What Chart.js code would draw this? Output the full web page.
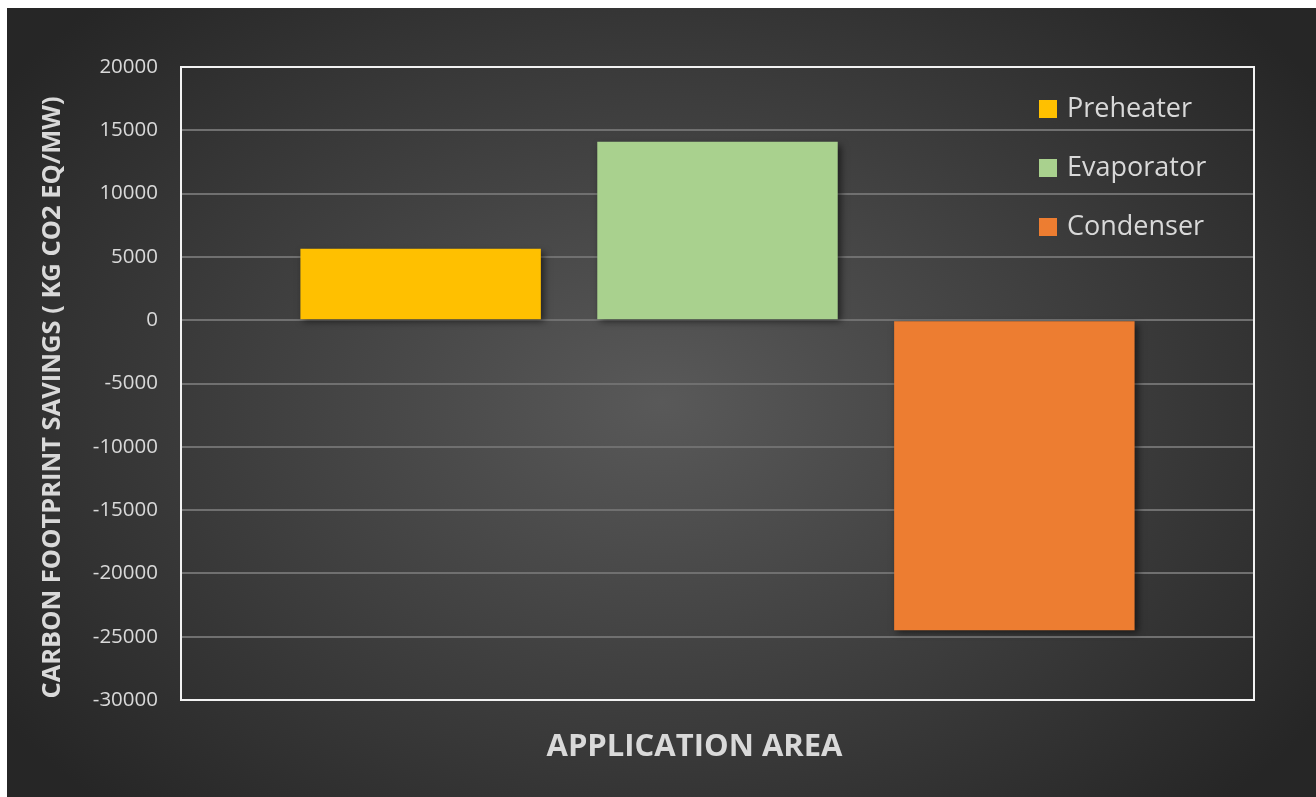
<!DOCTYPE html>
<html>
<head>
<meta charset="utf-8">
<script src="https://cdn.jsdelivr.net/npm/chart.js@4.4.1/dist/chart.umd.min.js"></script>
<style>
html, body { margin: 0; padding: 0; background: #fff; }
#wrap { position: absolute; left: 7px; top: 8px; width: 1309px; height: 789px; }
</style>
</head>
<body>
<div id="wrap"><canvas id="graficoCarbono" width="1309" height="789"></canvas></div>
<script>
var categorias = [''];
var series = ['Preheater', 'Evaporator', 'Condenser'];
var valores = [5650, 14100, -24500];
var cores = ['#ffc000', '#a9d18e', '#ed7d31'];
var ticksY = [20000, 15000, 10000, 5000, 0, -5000, -10000, -15000, -20000, -25000, -30000];
var tituloX = 'APPLICATION AREA';
var tituloY = 'CARBON FOOTPRINT SAVINGS ( KG CO2 EQ/MW)';

Chart.defaults.font.family = '"Open Sans", sans-serif';
Chart.defaults.color = '#d9d9d9';

// fundo escuro com gradiente radial
var fundo = {
    id: 'fundo',
    beforeDraw: function (chart) {
        var ctx = chart.ctx, w = chart.width, h = chart.height;
        ctx.save();
        ctx.translate(w / 2, h / 2);
        ctx.scale(1, 0.7);
        var g = ctx.createRadialGradient(0, 0, 0, 0, 0, 800);
        g.addColorStop(0, '#595959');
        g.addColorStop(1, '#262626');
        ctx.fillStyle = g;
        ctx.fillRect(-w, -h * 1.5, w * 2, h * 3);
        ctx.restore();
    }
};

// sombra das barras
var sombra = {
    id: 'sombra',
    beforeDatasetsDraw: function (chart) {
        var ctx = chart.ctx;
        ctx.save();
        ctx.shadowColor = 'rgba(0,0,0,0.55)';
        ctx.shadowBlur = 7;
        ctx.shadowOffsetX = 3;
        ctx.shadowOffsetY = 3;
    },
    afterDatasetsDraw: function (chart) {
        chart.ctx.restore();
    }
};

// moldura branca, legenda dentro da area e titulos dos eixos
var moldura = {
    id: 'moldura',
    afterDraw: function (chart) {
        var ctx = chart.ctx, a = chart.chartArea;
        ctx.save();
        ctx.strokeStyle = '#f2f2f2';
        ctx.lineWidth = 2;
        ctx.strokeRect(a.left, a.top, a.right - a.left, a.bottom - a.top);

        ctx.font = '27px "Open Sans"';
        ctx.textBaseline = 'middle';
        chart.data.datasets.forEach(function (ds, i) {
            var y = a.top + 42 + i * 59;
            ctx.fillStyle = ds.backgroundColor;
            ctx.fillRect(a.right - 215, y - 9, 18, 18);
            ctx.fillStyle = '#d9d9d9';
            ctx.fillText(ds.label, a.right - 187, y);
        });

        ctx.fillStyle = '#d9d9d9';
        ctx.textAlign = 'center';
        ctx.font = 'bold 31px "Open Sans"';
        ctx.fillText(tituloX, (a.left + a.right) / 2 - 23, a.bottom + 47);

        ctx.translate(46, (a.top + a.bottom) / 2 + 14);
        ctx.rotate(-Math.PI / 2);
        ctx.font = 'bold 25.5px "Open Sans"';
        ctx.fillText(tituloY, 0, 0);
        ctx.restore();
    }
};

var ctx = document.getElementById('graficoCarbono').getContext('2d');
var graficoCarbono = new Chart(ctx, {
    type: 'bar',
    data: {
        labels: categorias,
        datasets: series.map(function (nome, i) {
            return {
                label: nome,
                data: [valores[i]],
                backgroundColor: cores[i],
                borderWidth: 0,
                categoryPercentage: 0.83,
                barPercentage: 0.81
            };
        })
    },
    options: {
        responsive: false,
        animation: false,
        devicePixelRatio: 1,
        layout: { padding: { top: 59, right: 62, left: 0, bottom: 0 } },
        plugins: {
            legend: { display: false },
            tooltip: { enabled: false }
        },
        scales: {
            x: {
                grid: { display: false },
                border: { display: false },
                ticks: { display: false },
                afterFit: function (scale) { scale.height = 97; }
            },
            y: {
                min: -30000,
                max: 20000,
                afterBuildTicks: function (scale) {
                    scale.ticks = ticksY.map(function (v) { return { value: v }; });
                },
                ticks: {
                    color: '#d9d9d9',
                    font: { size: 20.5 },
                    padding: 23,
                    callback: function (v) { return String(v); }
                },
                grid: { color: '#707070', lineWidth: 2, drawTicks: false },
                border: { display: false },
                afterFit: function (scale) { scale.width = 174; }
            }
        }
    },
    plugins: [fundo, sombra, moldura]
});
</script>
</body>
</html>
